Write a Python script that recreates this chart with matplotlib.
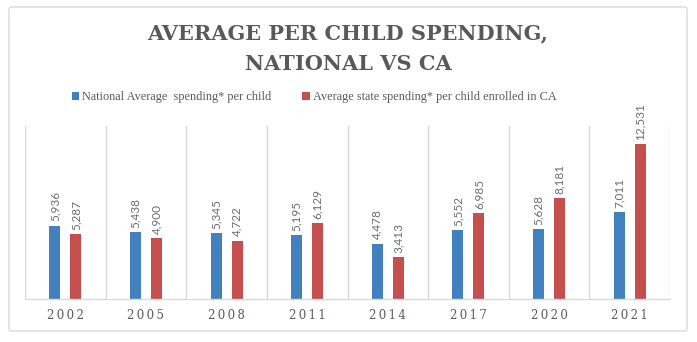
import matplotlib
matplotlib.use("Agg")
import matplotlib.pyplot as plt
from matplotlib.patches import FancyBboxPatch
import numpy as np

years = ["2002", "2005", "2008", "2011", "2014", "2017", "2020", "2021"]
national = [5936, 5438, 5345, 5195, 4478, 5552, 5628, 7011]
california = [5287, 4900, 4722, 6129, 3413, 6985, 8181, 12531]
series_names = ["National Average  spending* per child",
                "Average state spending* per child enrolled in CA"]
title = "AVERAGE PER CHILD SPENDING,\nNATIONAL VS CA"

BLUE = "#4281BD"
RED = "#C44F4E"
GRAY = "#595959"
LIGHT = "#D9D9D9"

fig = plt.figure(figsize=(6.97, 3.42), dpi=100)
fig.patch.set_facecolor("white")

# outer border
border = FancyBboxPatch((9/697, 1-331/342), (687-9)/697, (331-7)/342,
                        boxstyle="round,pad=0,rounding_size=0.005",
                        transform=fig.transFigure, fill=False,
                        edgecolor=LIGHT, linewidth=1.0)
fig.patches.append(border)

ax = fig.add_axes([25/697, 1-299/342, (670-25)/697, (299-126)/342])
x = np.arange(len(years))
off = 0.13
w = 0.137
b1 = ax.bar(x - off, national, width=w, color=BLUE, label=series_names[0])
b2 = ax.bar(x + off, california, width=w, color=RED, label=series_names[1])

for bars, vals in ((b1, national), (b2, california)):
    for rect, v in zip(bars, vals):
        ax.annotate(f"{v:,}", (rect.get_x() + rect.get_width()/2, v),
                    xytext=(0, 3), textcoords="offset points",
                    rotation=90, ha="center", va="bottom",
                    fontsize=8.5, color="#6b6b6b", family="Lato",
                    annotation_clip=False)

ax.set_xlim(-0.5, len(years) - 0.5)
ax.set_ylim(0, 14000)
ax.set_yticks([])
ax.set_xticks(x)
ax.set_xticklabels(["\u2009".join(y) for y in years], fontsize=8.5,
                   color=GRAY, family="DejaVu Serif")
ax.tick_params(axis="x", length=0, pad=7)
for b in np.arange(-0.5, len(years), 1.0):
    ax.axvline(b, color=LIGHT, linewidth=1.0, zorder=0)
for s in ["top", "right", "left"]:
    ax.spines[s].set_visible(False)
ax.spines["bottom"].set_color(LIGHT)
ax.spines["bottom"].set_linewidth(1.0)

fig.text(348/697, 1-48.5/342, title, ha="center", va="center",
         fontsize=15, fontweight="bold", color=GRAY,
         family="DejaVu Serif", linespacing=1.7)

leg = fig.legend(handles=[b1, b2], loc="center left",
                 bbox_to_anchor=(72/697, 1-97/342), ncol=2, frameon=False,
                 handlelength=0.6, handleheight=0.6,
                 handletextpad=0.25, columnspacing=2.5, borderaxespad=0,
                 borderpad=0,
                 prop={"family": "Liberation Serif", "size": 8.8})
for t in leg.get_texts():
    t.set_color(GRAY)

fig.savefig("out.png", dpi=100, facecolor="white")
